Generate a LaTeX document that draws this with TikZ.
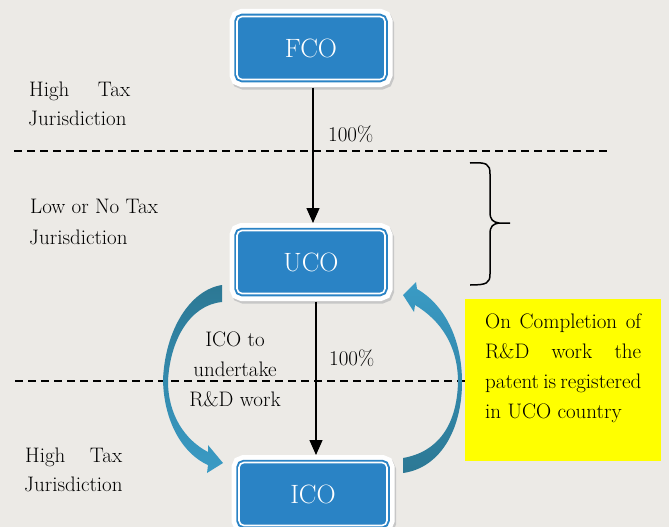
\documentclass[tikz,border=0pt]{standalone}
\usepackage{fontspec}
\setmainfont{Latin Modern Roman}
\usetikzlibrary{arrows.meta,calc}
\definecolor{bg}{HTML}{ECEAE6}
\definecolor{boxblue}{HTML}{2A83C5}
\definecolor{tealdark}{HTML}{2C7894}
\definecolor{teallight}{HTML}{3A9BC5}
\definecolor{noteyellow}{HTML}{FFFF00}
\begin{document}
\begin{tikzpicture}[x=1pt,y=-1pt,
  cobox/.style={rectangle, rounded corners=5pt, minimum width=148pt, minimum height=63pt,
    inner sep=0pt, outer sep=0pt, fill=boxblue, draw=white, line width=1.6pt, text=white,
    font=\fontsize{26.5}{30}\selectfont,
    preaction={draw=black!22, fill=black!22, line width=15pt, transform canvas={shift={(1.5pt,-2.5pt)}}},
    preaction={draw=white, fill=white, line width=15pt},
    preaction={draw=boxblue, line width=5.5pt}},
  lbl/.style={font=\fontsize{21}{25}\selectfont, inner sep=0pt, anchor=base west},
  clbl/.style={font=\fontsize{21}{25}\selectfont, inner sep=0pt, anchor=base},
  dashline/.style={line width=1.6pt, dash pattern=on 8pt off 5pt},
  conn/.style={line width=1.3pt, -{Triangle[width=13pt,length=15pt]}, shorten <=8pt, shorten >=7.5pt},
  bracestyle/.style={line width=1.5pt}]
\useasboundingbox (0,0) rectangle (669,527);
\clip (0,0) rectangle (669,527);
\fill[bg] (0,0) rectangle (669,527);

% dashed jurisdiction borders
\draw[dashline] (14,151) -- (610,151);
\draw[dashline] (15,381) -- (465,381);

% yellow note
\node[fill=noteyellow, minimum width=196pt, minimum height=162pt, anchor=north west, inner sep=0pt, outer sep=0pt] (note) at (465,299) {};
\node[lbl] (n1) at (485,328) {\makebox[156pt][s]{On Completion of}};
\node[lbl] (n2) at (485,358) {\makebox[156pt][s]{R\&D work the}};
\node[lbl] (n3) at (485,388) {\makebox[156pt][s]{patent is registered}};
\node[lbl] (n4) at (485,418) {in UCO country};

% boxes
\node[cobox] (fco) at (311,48) {FCO};
\node[cobox] (uco) at (311,262) {UCO};
\node[cobox] (ico) at (313,494) {ICO};

% straight arrows
\draw[conn] ([xshift=2pt]fco.south) -- ([xshift=2pt]uco.north);
\draw[conn] ([xshift=5pt]uco.south) -- ([xshift=3pt]ico.north);

% percentages
\node[lbl] (p1) at (328,141) {100\%};
\node[lbl] (p2) at (329,365) {100\%};

% left labels
\node[lbl] (ht1) at (29,96) {\makebox[101pt][s]{High Tax}};
\node[lbl] (hj1) at (28,125) {Jurisdiction};
\node[lbl] (lt1) at (30,213) {Low or No Tax};
\node[lbl] (lj1) at (29,244) {Jurisdiction};
\node[lbl] (ht2) at (25,462) {\makebox[97pt][s]{High Tax}};
\node[lbl] (hj2) at (24,491) {Jurisdiction};

% middle label
\node[clbl] (r1) at (235,346) {ICO to};
\node[clbl] (r2) at (235,376) {undertake};
\node[clbl] (r3) at (235,406) {R\&D work};

% brace
\draw[bracestyle] (470,163) .. controls (487,162) and (490,164) .. (490,174) -- (490,212)
  .. controls (490,220) and (493,222) .. (499,223) -- (510,223);
\draw[bracestyle] (499,223) .. controls (493,224) and (490,226) .. (490,234) -- (490,274)
  .. controls (490,283) and (487,285) .. (470,285);

% curved arrow left (UCO -> ICO)
\shade[top color=tealdark, bottom color=teallight]
  (222,285) .. controls (190,290) and (165,330) .. (163,380)
  .. controls (164,425) and (185,455) .. (208,465)
  -- (207,473) -- (223,463) -- (208,445) -- (208,452)
  .. controls (185,440) and (168,415) .. (168,381)
  .. controls (170,340) and (190,305) .. (222,302) -- cycle;

% curved arrow right (ICO -> UCO)
\shade[top color=teallight, bottom color=tealdark]
  (403,473) .. controls (440,468) and (462,430) .. (462,382)
  .. controls (462,340) and (445,305) .. (417,289)
  -- (416,282) -- (403,295) -- (414,312) -- (415,305)
  .. controls (440,320) and (458,345) .. (458,382)
  .. controls (457,425) and (438,452) .. (403,458) -- cycle;
\end{tikzpicture}
\end{document}
